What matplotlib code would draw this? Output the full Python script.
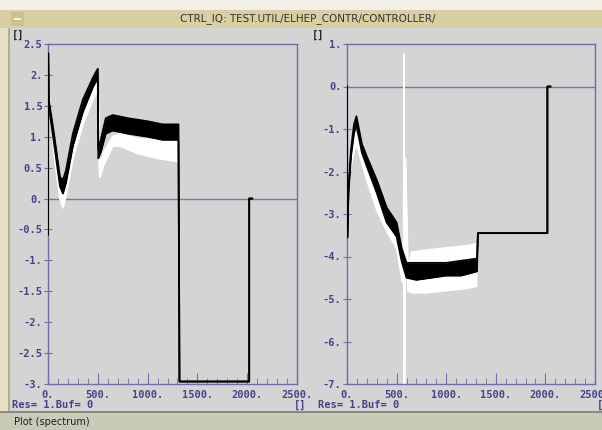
import matplotlib.pyplot as plt
from matplotlib.patches import Rectangle
from matplotlib.ticker import MultipleLocator, FuncFormatter

# left plot, black trace (lower / upper edge of the noisy band)
left_black_x = [0, 2, 8, 60, 120, 150, 180, 250, 350, 450, 500, 505, 530, 580, 650, 800, 1000, 1150, 1310, 1320, 2020, 2020, 2050]
left_black_lo = [-0.58, 2.35, 1.50, 0.90, 0.20, 0.08, 0.25, 0.85, 1.40, 1.80, 1.95, 0.65, 0.75, 1.05, 1.10, 1.05, 1.00, 0.95, 0.95, -2.96, -2.96, 0.0, 0.0]
left_black_hi = [-0.58, 2.35, 1.60, 1.05, 0.35, 0.30, 0.45, 1.05, 1.60, 1.95, 2.10, 0.80, 0.95, 1.30, 1.35, 1.30, 1.25, 1.20, 1.20, -2.96, -2.96, 0.0, 0.0]

# left plot, white trace
left_white_x = [0, 5, 60, 120, 150, 180, 250, 350, 450, 500, 520, 560, 650, 720, 900, 1100, 1300, 1315]
left_white_lo = [2.50, 1.70, 0.75, 0.00, -0.15, 0.05, 0.65, 1.20, 1.60, 1.75, 0.35, 0.55, 0.85, 0.85, 0.73, 0.65, 0.60, 0.60]
left_white_hi = [2.50, 1.75, 0.90, 0.15, 0.05, 0.20, 0.80, 1.35, 1.75, 1.90, 0.50, 0.75, 1.00, 1.05, 0.97, 0.95, 0.95, 0.95]

# right plot, black trace
right_black_x = [0, 3, 15, 40, 70, 95, 150, 200, 300, 400, 500, 550, 600, 700, 850, 1000, 1150, 1310, 1320, 2020, 2020, 2050]
right_black_lo = [0.0, -3.55, -2.50, -1.65, -1.10, -0.90, -1.55, -1.88, -2.50, -3.20, -3.53, -4.10, -4.50, -4.55, -4.50, -4.45, -4.45, -4.35, -3.45, -3.45, 0.0, 0.0]
right_black_hi = [0.0, -3.55, -2.40, -1.50, -0.90, -0.70, -1.35, -1.65, -2.20, -2.85, -3.20, -3.80, -4.15, -4.15, -4.15, -4.15, -4.10, -4.05, -3.45, -3.45, 0.0, 0.0]

# right plot, white trace (with the single spike near 575)
right_white_x = [0, 3, 20, 90, 200, 300, 400, 500, 560, 572, 575, 578, 588, 615, 650, 800, 1000, 1200, 1310]
right_white_lo = [-7.0, -3.0, -2.1, -1.30, -2.20, -2.90, -3.40, -3.80, -4.60, -4.60, 0.75, -7.0, -1.70, -4.80, -4.85, -4.85, -4.80, -4.75, -4.70]
right_white_hi = [-7.0, -3.0, -2.0, -1.10, -1.95, -2.60, -3.10, -3.40, -4.30, -4.60, 0.75, -7.0, -1.70, -4.40, -3.90, -3.85, -3.80, -3.75, -3.70]

title = "CTRL_IQ: TEST.UTIL/ELHEP_CONTR/CONTROLLER/"
bg = "#d4d4d4"
axis_col = "#6e6ea8"
label_col = "#44448a"

fig = plt.figure(figsize=(6.02, 4.30), dpi=100, facecolor=bg)
W, H = 602, 430


def px_rect(x, y, w, h, color):
    # rectangle in pixel coords measured from the top-left
    fig.patches.append(Rectangle((x / W, 1 - (y + h) / H), w / W, h / H,
                                 transform=fig.transFigure, color=color, lw=0, zorder=0))


# window decoration
px_rect(0, 0, W, 10, "#f2f0e6")
px_rect(0, 10, W, 18, "#d8d0a2")
px_rect(11, 12, 13, 14, "#cbc290")
px_rect(14, 18, 7, 1.5, "#f4f0dc")
px_rect(0, 28, 9, 385, "#e6e1c4")
px_rect(8, 28, 2, 385, "#b9af7e")
px_rect(0, 412, W, 18, "#c9cbb9")
px_rect(0, 411, W, 1.5, "#8a8a80")
fig.text(308 / W, 1 - 19 / H, title, ha="center", va="center", fontsize=7.5, color="#333333")
fig.text(14 / W, 1 - 422 / H, "Plot (spectrum)", ha="left", va="center", fontsize=7, color="#222222")

mono = dict(family="DejaVu Sans Mono", fontsize=7.5, fontweight="bold", color=label_col)


def trace(ax, x, lo, hi, color, z):
    ax.fill_between(x, lo, hi, color=color, lw=0, zorder=z)
    ax.plot(x, lo, color=color, lw=1.3, zorder=z)
    ax.plot(x, hi, color=color, lw=1.3, zorder=z)


def fmt(v, pos):
    s = "%g" % v
    if "." not in s:
        s += "."
    return s


def setup(ax, ymin, ymax, ystep):
    ax.set_facecolor(bg)
    ax.set_xlim(0, 2500)
    ax.set_ylim(ymin, ymax)
    for s in ax.spines.values():
        s.set_color(axis_col)
        s.set_linewidth(1)
    ax.axhline(0, color="#7474b0", lw=1, zorder=1)
    ax.xaxis.set_major_locator(MultipleLocator(500))
    ax.xaxis.set_minor_locator(MultipleLocator(100))
    ax.yaxis.set_major_locator(MultipleLocator(ystep))
    ax.xaxis.set_major_formatter(FuncFormatter(fmt))
    ax.yaxis.set_major_formatter(FuncFormatter(fmt))
    ax.tick_params(axis="x", which="major", direction="in", length=8, color=axis_col, pad=4)
    ax.tick_params(axis="x", which="minor", direction="in", length=4, color=axis_col)
    ax.tick_params(axis="y", which="major", direction="inout", length=6, color=axis_col, pad=1)
    for lab in ax.get_xticklabels() + ax.get_yticklabels():
        lab.set(**mono)


ax1 = fig.add_axes([48 / W, 1 - 384 / H, 249 / W, 340 / H])
setup(ax1, -3, 2.5, 0.5)
trace(ax1, left_white_x, left_white_lo, left_white_hi, "white", 2)
trace(ax1, left_black_x, left_black_lo, left_black_hi, "black", 3)

ax2 = fig.add_axes([347 / W, 1 - 384 / H, 248 / W, 340 / H])
setup(ax2, -7, 1, 1)
trace(ax2, right_white_x, right_white_lo, right_white_hi, "white", 2)
trace(ax2, right_black_x, right_black_lo, right_black_hi, "black", 3)

# unit labels and status lines
small = dict(family="DejaVu Sans Mono", fontsize=7.5, fontweight="bold")
fig.text(12 / W, 1 - 35 / H, "[]", color="#222222", va="center", **small)
fig.text(312 / W, 1 - 35 / H, "[]", color="#222222", va="center", **small)
fig.text(12 / W, 1 - 405 / H, "Res= 1.Buf= 0", color=label_col, va="center", **small)
fig.text(318 / W, 1 - 405 / H, "Res= 1.Buf= 0", color=label_col, va="center", **small)
fig.text(294 / W, 1 - 405 / H, "[]", color=label_col, va="center", **small)
fig.text(597 / W, 1 - 405 / H, "[]", color=label_col, va="center", **small)

fig.savefig("out.png", dpi=100, facecolor=bg)
